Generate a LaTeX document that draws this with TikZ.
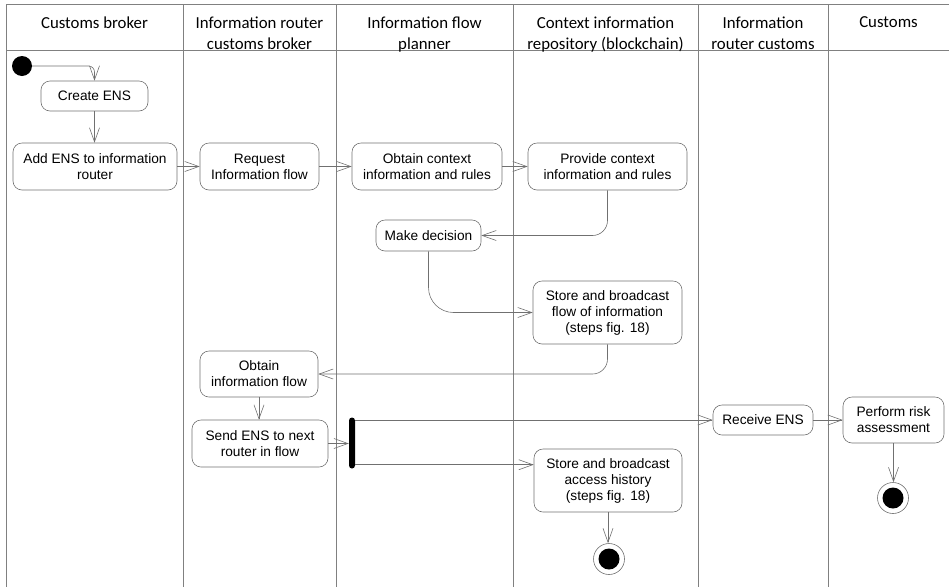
\documentclass[tikz,border=0pt]{standalone}
\usepackage{fontspec}
\setmainfont{Liberation Sans}
\newfontfamily\hdrfont{Carlito}
\usetikzlibrary{arrows.meta,calc}
\definecolor{lanegray}{HTML}{808080}
\definecolor{boxgray}{HTML}{707070}
\definecolor{arrgray}{HTML}{707070}
\begin{document}
\begin{tikzpicture}[x=1pt,y=-1pt,
  lane/.style={draw=lanegray, line width=1pt},
  hdr/.style={anchor=north, inner sep=0pt, align=center, font=\hdrfont\fontsize{16.8}{21}\selectfont},
  act/.style={draw=boxgray, line width=0.6pt, rounded corners=9pt, align=center, inner sep=0pt, font=\fontsize{13.7}{16}\selectfont},
  arr/.style={draw=arrgray, line width=0.6pt, -{Straight Barb[length=14pt,width=10pt]}},
  flow/.style={draw=arrgray, line width=0.6pt}
]
\useasboundingbox (0,0) rectangle (949,587);
% swimlanes
\draw[lane] (6,4) -- (949,4);
\draw[lane] (6,50) -- (949,50);
\foreach \x in {6,183,336,513,698,828} \draw[lane] (\x,4) -- (\x,587);
% headers
\node[hdr] (h1) at (94.5,16.5) {Customs broker};
\node[hdr] (h2) at (259.5,16.5) {Information router\\customs broker};
\node[hdr] (h3) at (424.5,16.5) {Information flow\\planner};
\node[hdr] (h4) at (605.5,16.5) {Context information\\repository (blockchain)};
\node[hdr] (h5) at (763,16.5) {Information\\router customs};
\node[hdr] (h6) at (888.5,16.5) {Customs};
% nodes
\node[circle, fill=black, minimum size=20pt, inner sep=0pt] (start) at (22,66) {};
\node[act, minimum width=107pt, minimum height=30pt] (create) at (94.5,96) {Create ENS};
\node[act, minimum width=164pt, minimum height=47pt] (add) at (95,166.5) {Add ENS to information\\router};
\node[act, minimum width=119pt, minimum height=47pt] (req) at (259.5,166.5) {Request\\Information flow};
\node[act, minimum width=150pt, minimum height=47pt] (obt) at (427,166.5) {Obtain context\\information and rules};
\node[act, minimum width=159pt, minimum height=47pt] (prov) at (607.5,166.5) {Provide context\\information and rules};
\node[act, minimum width=105pt, minimum height=31pt] (dec) at (428.5,235.5) {Make decision};
\node[act, minimum width=149pt, minimum height=63pt] (store1) at (607.5,312.5) {Store and broadcast\\flow of information\\(steps fig. 18)};
\node[act, minimum width=118pt, minimum height=46pt] (obtflow) at (259,374) {Obtain\\information flow};
\node[act, minimum width=136pt, minimum height=47pt] (send) at (260,443.5) {Send ENS to next\\router in flow};
\node[fill=black, rounded corners=3pt, minimum width=6pt, minimum height=51pt, inner sep=0pt] (bar) at (352,443) {};
\node[act, minimum width=148pt, minimum height=63pt] (store2) at (608,480.5) {Store and broadcast\\access history\\(steps fig. 18)};
\node[act, minimum width=100pt, minimum height=30pt] (recv) at (763,420) {Receive ENS};
\node[act, minimum width=101pt, minimum height=46pt] (risk) at (893.5,420) {Perform risk\\assessment};
\node[circle, draw=boxgray, line width=0.6pt, minimum size=31pt, inner sep=0pt] (end1) at (609,559) {};
\node[circle, fill=black, minimum size=21pt, inner sep=0pt] at (end1) {};
\node[circle, draw=boxgray, line width=0.6pt, minimum size=31pt, inner sep=0pt] (end2) at (893,498) {};
\node[circle, fill=black, minimum size=21pt, inner sep=0pt] at (end2) {};
% connectors
\draw[arr, rounded corners=6pt] (start.east) -| (create.north);
\draw[arr] (create.south) -- (create.south |- add.north);
\draw[arr] (add) -- (req);
\draw[arr] (req) -- (obt);
\draw[arr] (obt) -- (prov);
\draw[arr, rounded corners=15pt] (prov.south) |- (dec.east);
\draw[arr, rounded corners=25pt] (dec.south) |- (store1.west);
\draw[arr, rounded corners=15pt] (store1.south) |- (obtflow.east);
\draw[arr] (obtflow.south) -- (obtflow.south |- send.north);
\draw[arr] (send.east) -- (bar.west |- send.east);
\draw[arr] (bar.east |- recv.west) -- (recv.west);
\draw[arr] ([yshift=4pt]bar.south east) -- ([yshift=4pt]bar.south east -| store2.west);
\draw[arr] (recv) -- (risk);
\draw[arr] (store2.south) -- (store2.south |- end1.north);
\draw[arr] (risk.south) -- (risk.south |- end2.north);
\end{tikzpicture}
\end{document}
